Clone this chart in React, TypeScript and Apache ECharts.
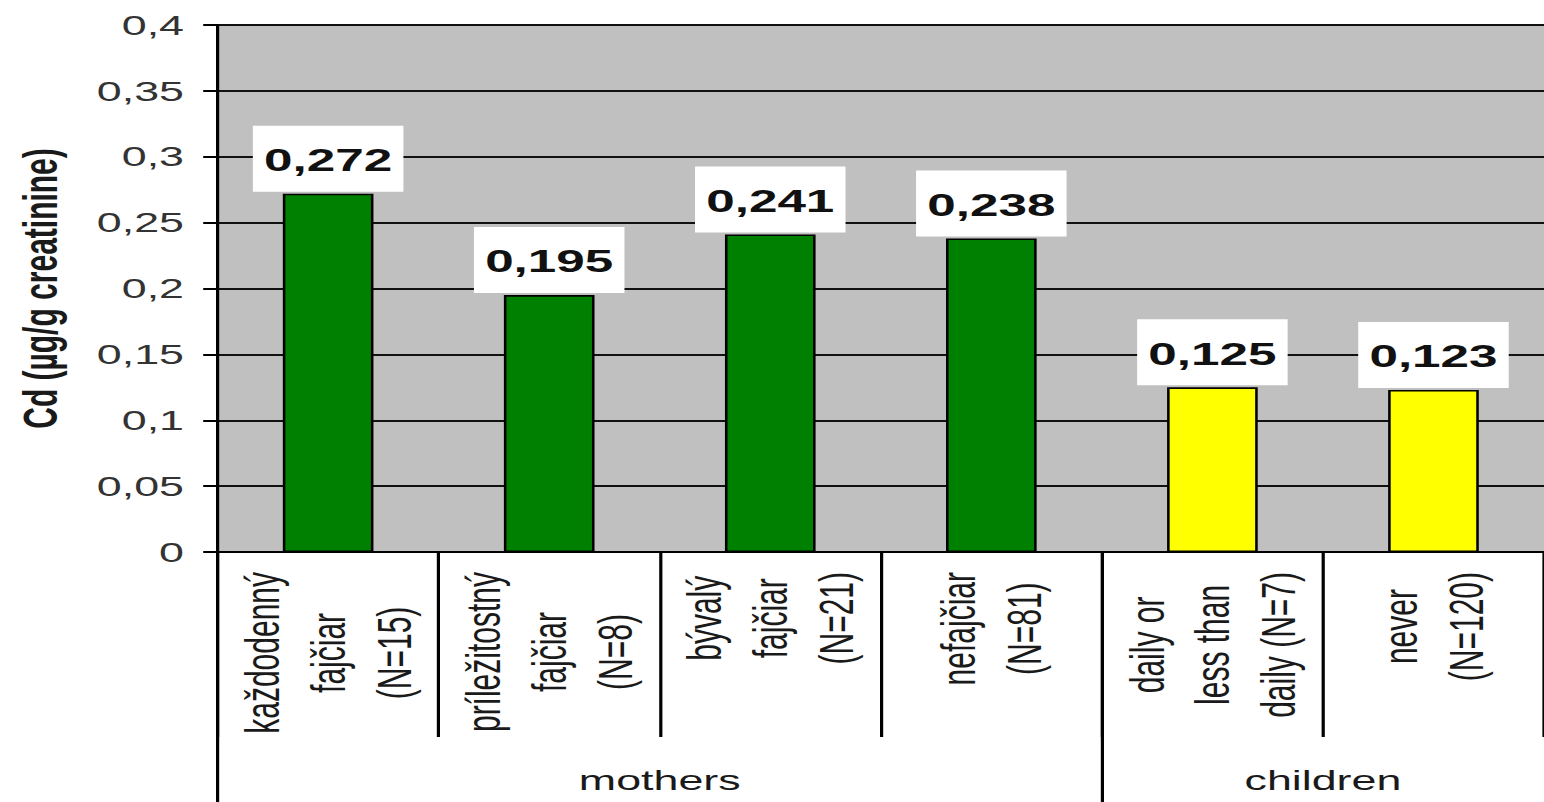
import { useEffect, useRef } from "react";
import * as echarts from "echarts";

// Categories (rotated, multi-line labels under each bar)
const categories = [
  "každodenný\nfajčiar\n(N=15)",
  "príležitostný\nfajčiar\n(N=8)",
  "bývalý\nfajčiar\n(N=21)",
  "nefajčiar\n(N=81)",
  "daily or\nless than\ndaily (N=7)",
  "never\n(N=120)",
];

// Cd in urine, µg/g creatinine
const cdValues = [0.272, 0.195, 0.241, 0.238, 0.125, 0.123];

// Which group each category belongs to
const categoryGroups = ["mothers", "mothers", "mothers", "mothers", "children", "children"];

// Group names and their boundaries, in category units
const groupNames = ["mothers", "children"];
const groupBounds = [0, 4, 6];

// Value axis
const yMin = 0;
const yMax = 0.4;
const yStep = 0.05;
const yAxisTitle = "Cd (µg/g creatinine)";

const FONT = "'Liberation Sans', Arial, Helvetica, sans-serif";
const STRETCH = 1.6;
const PAGE_W = 1544;
const PAGE_H = 802;

const groupColors: Record<string, string> = {
  mothers: "#008000",
  children: "#FFFF00",
};

const comma = (v: number, digits?: number) =>
  (digits === undefined ? String(+v.toFixed(4)) : v.toFixed(digits)).replace(".", ",");

export default function App() {
  const ref = useRef<HTMLDivElement>(null);

  useEffect(() => {
    if (!ref.current) return;
    const chart = echarts.init(ref.current, null, { renderer: "svg" });

    const groupCenters = groupNames.map((_, i) => (groupBounds[i] + groupBounds[i + 1]) / 2);

    chart.setOption({
      animation: false,
      backgroundColor: "#ffffff",
      textStyle: { fontFamily: FONT },
      grid: {
        left: 136,
        right: 0,
        top: 25,
        bottom: 250,
        show: true,
        backgroundColor: "#C0C0C0",
        borderWidth: 0,
        containLabel: false,
      },
      xAxis: [
        {
          type: "category",
          data: categories,
          position: "bottom",
          axisLine: { show: true, lineStyle: { color: "#000", width: 2 } },
          axisTick: {
            show: true,
            interval: 0,
            length: 185,
            lineStyle: { color: "#000", width: 2 },
          },
          axisLabel: {
            interval: 0,
            rotate: 90,
            margin: 20,
            hideOverlap: false,
            formatter: (v: string) =>
              v
                .split("\n")
                .map((line) => `{c|${line}}`)
                .join("\n"),
            rich: {
              c: {
                align: "center",
                fontSize: 30,
                lineHeight: 41,
                fontFamily: FONT,
                color: "#1a1a1a",
              },
            },
          },
          splitLine: { show: false },
        },
        {
          type: "value",
          min: groupBounds[0],
          max: groupBounds[groupBounds.length - 1],
          position: "bottom",
          axisLine: { show: false },
          splitLine: { show: false },
          axisTick: {
            show: true,
            customValues: groupBounds.slice(0, -1),
            length: 250,
            lineStyle: { color: "#000", width: 2 },
          },
          axisLabel: {
            customValues: groupCenters,
            margin: 214,
            fontSize: 28,
            color: "#1a1a1a",
            fontFamily: FONT,
            formatter: (v: number) => {
              const i = groupCenters.findIndex((c) => Math.abs(c - v) < 1e-6);
              return i >= 0 ? groupNames[i] : "";
            },
          },
        },
      ],
      yAxis: {
        type: "value",
        min: yMin,
        max: yMax,
        interval: yStep,
        name: yAxisTitle,
        nameLocation: "middle",
        nameGap: 96,
        nameRotate: 90,
        nameTextStyle: {
          fontSize: 30,
          fontWeight: "bold",
          color: "#1a1a1a",
          fontFamily: FONT,
        },
        axisLine: { show: true, lineStyle: { color: "#000", width: 2 } },
        axisTick: { show: true, length: 9, lineStyle: { color: "#000", width: 2 } },
        axisLabel: {
          margin: 21,
          fontSize: 28,
          color: "#333333",
          fontFamily: FONT,
          formatter: (v: number) => comma(v),
        },
        splitLine: { show: true, lineStyle: { color: "#111", width: 1.8 } },
      },
      series: [
        {
          type: "bar",
          xAxisIndex: 0,
          data: cdValues,
          barWidth: "41%",
          itemStyle: {
            color: (p: any) => groupColors[categoryGroups[p.dataIndex]],
            borderColor: "#000",
            borderWidth: 1.6,
          },
          label: {
            show: true,
            position: "top",
            distance: 2,
            formatter: (p: any) => comma(p.value, 3),
            fontSize: 32,
            fontWeight: "bold",
            fontFamily: FONT,
            color: "#111",
            backgroundColor: "#ffffff",
            padding: [17, 7, 15, 7],
            lineHeight: 34,
          },
        },
      ],
    });

    return () => chart.dispose();
  }, []);

  return (
    <div
      ref={ref}
      style={{
        position: "absolute",
        left: 0,
        top: 0,
        width: PAGE_W / STRETCH,
        height: PAGE_H,
        transform: `scaleX(${STRETCH})`,
        transformOrigin: "0 0",
      }}
    />
  );
}
